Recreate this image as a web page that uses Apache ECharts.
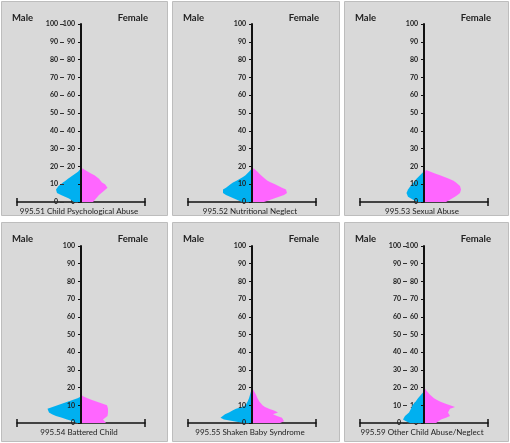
<!DOCTYPE html>
<html>
<head>
<meta charset="utf-8">
<script src="https://cdn.jsdelivr.net/npm/echarts@6/dist/echarts.min.js"></script>
<style>
html,body{margin:0;padding:0;background:#fff;}
#c{width:510px;height:443px;}
</style>
</head>
<body>
<div id="c"></div>
<script>
// ---- data (age 0,1,2,... upward; male negative, female positive) ----
const ageCategories = Array.from({length: 101}, (_, i) => String(i));
const panelTitles = [
  '995.51 Child Psychological Abuse',
  '995.52 Nutritional Neglect',
  '995.53 Sexual Abuse',
  '995.54 Battered Child',
  '995.55 Shaken Baby Syndrome',
  '995.59 Other Child Abuse/Neglect'
];
const male1   = [-7, -9, -12, -16, -20, -24, -25.5, -25, -24, -22.5, -20.5, -18, -15.5, -13, -10.5, -8, -5.5, -3, -1, 0];
const female1 = [12, 13.5, 15, 16.5, 18, 20, 22.5, 24.5, 26.5, 26, 24, 21, 19.5, 18, 16.5, 13.5, 10, 7, 4, 1.5, 0];
const male2   = [-10, -14, -18, -22, -26, -29, -30, -29, -26, -24, -21.5, -19, -15.5, -12, -9, -6.5, -4.5, -3, -1.5, 0];
const female2 = [12, 17, 22, 27, 32, 35, 36.5, 34, 30, 26.5, 23, 19, 15.5, 13, 11, 9, 7, 5.5, 3.5, 1.5, 0];
const male3   = [-6, -10, -13, -16, -17, -17.5, -17, -16, -15, -13.5, -12, -10.5, -9, -7.5, -5.5, -4, -2, -0.5, 0];
const female3 = [22, 25, 28, 31, 33.5, 36, 37, 37, 36.5, 36, 35, 32, 29.5, 25, 20.5, 16, 11, 6.5, 2, 0];
const male4   = [-4, -8, -14, -19, -25, -29, -32, -34, -33.5, -28.5, -23.5, -18.5, -13.5, -8.5, -3.5, 0];
const female4 = [25, 24, 22, 24, 26.5, 27, 27, 27, 27, 27, 26, 21, 16, 11, 6.5, 2.5, 0];
const male5   = [-8, -18, -28, -31.5, -30, -27, -23, -19.5, -16, -10, -6.5, -5.5, -4.5, -3.5, -3, -2.5, -2, -1.5, -1, -0.5, 0];
const female5 = [28, 32, 33, 30, 25, 21, 26, 22, 17, 13, 10.5, 9, 7.5, 6.5, 5.5, 4.5, 4, 3, 2, 1, 0];
const male6   = [-14, -18, -21, -21.5, -19, -17, -15, -13.5, -13, -12.5, -11.5, -10, -8.5, -7, -6, -4.5, -3, -1.5, 0];
const female6 = [12, 14, 17, 22, 26, 25, 24, 23, 26, 31, 30, 21, 16.5, 13, 10, 8, 6, 4.5, 3, 1.5, 0];
const maleSeries = [male1, male2, male3, male4, male5, male6];
const femaleSeries = [female1, female2, female3, female4, female5, female6];
const doubleLabelPanels = [0, 5];

// ---- layout ----
const panels = [
  {x: 1, y: 1, w: 167, h: 215},
  {x: 172, y: 1, w: 168, h: 215},
  {x: 344, y: 1, w: 165, h: 215},
  {x: 1, y: 222, w: 167, h: 220},
  {x: 172, y: 222, w: 168, h: 220},
  {x: 344, y: 222, w: 165, h: 220}
];
const FONT = 'Lato, "Liberation Sans", sans-serif';
const BLUE = '#00B0F0', PINK = '#FF66FF';

const grid = [], xAxis = [], yAxis = [], series = [], graphic = [];
panels.forEach((p, i) => {
  const top = i < 3 ? p.y + 23 : p.y + 24;
  const height = i < 3 ? 178 : 177;
  grid.push({left: p.x + 16, top: top, width: 128, height: height});
  xAxis.push({
    gridIndex: i, type: 'value', min: -64, max: 64,
    axisLine: {show: true, onZero: false, symbol: ['rect', 'rect'], symbolSize: [8, 1.5],
      lineStyle: {color: '#111', width: 1.5}},
    axisTick: {show: false}, axisLabel: {show: false}, splitLine: {show: false}
  });
  const base = {
    gridIndex: i, type: 'category', data: ageCategories, boundaryGap: false,
    position: 'left', splitLine: {show: false}
  };
  // axis line + ticks (on top of areas)
  yAxis.push(Object.assign({}, base, {
    offset: -64, z: 6,
    axisLine: {show: true, onZero: false, lineStyle: {color: '#111', width: 2}},
    axisTick: {show: true, length: 3, interval: 9, lineStyle: {color: '#111', width: 1}},
    axisLabel: {show: false}
  }));
  const labelAxisIndex = yAxis.length;
  const dbl = doubleLabelPanels.indexOf(i) >= 0;
  yAxis.push(Object.assign({}, base, {
    offset: -64, z: dbl ? 0 : 6,
    axisLine: {show: false}, axisTick: {show: false},
    axisLabel: {interval: 9, margin: 6, fontSize: 7, fontWeight: 'bold', color: '#222', fontFamily: FONT}
  }));
  if (dbl) {
    yAxis.push(Object.assign({}, base, {
      offset: -47, z: 6,
      axisLine: {show: false},
      axisTick: {show: true, length: 4, interval: 9, lineStyle: {color: '#333', width: 1}},
      axisLabel: {interval: 9, margin: 6, fontSize: 7, fontWeight: 'bold', color: '#222', fontFamily: FONT}
    }));
  }
  series.push({
    name: 'Male', type: 'line', xAxisIndex: i, yAxisIndex: labelAxisIndex,
    data: maleSeries[i], symbol: 'none', smooth: false, z: 2,
    lineStyle: {width: 0, color: BLUE}, areaStyle: {color: BLUE, opacity: 1}
  });
  series.push({
    name: 'Female', type: 'line', xAxisIndex: i, yAxisIndex: labelAxisIndex,
    data: femaleSeries[i], symbol: 'none', smooth: false, z: 2,
    lineStyle: {width: 0, color: PINK}, areaStyle: {color: PINK, opacity: 1}
  });
  graphic.push({
    type: 'rect', z: -10, silent: true,
    shape: {x: p.x + 0.5, y: p.y + 0.5, width: p.w - 1, height: p.h - 1},
    style: {fill: '#D9D9D9', stroke: '#BDBDBD', lineWidth: 1}
  });
  graphic.push({
    type: 'text', z: 10, silent: true, x: p.x + 11, y: p.y + 17,
    style: {text: 'Male', font: 'bold 9.5px ' + FONT, fill: '#222', verticalAlign: 'middle', align: 'left'}
  });
  graphic.push({
    type: 'text', z: 10, silent: true, x: p.x + 147, y: p.y + 17,
    style: {text: 'Female', font: 'bold 9.5px ' + FONT, fill: '#222', verticalAlign: 'middle', align: 'right'}
  });
  graphic.push({
    type: 'text', z: 10, silent: true, x: p.x + 78, y: p.y + 210,
    style: {text: panelTitles[i], font: '8px ' + FONT, fill: '#222', verticalAlign: 'middle', align: 'center'}
  });
});

const chart = echarts.init(document.getElementById('c'), null, {renderer: 'canvas'});
chart.setOption({
  animation: false,
  backgroundColor: '#ffffff',
  grid: grid, xAxis: xAxis, yAxis: yAxis, series: series, graphic: graphic
});
</script>
</body>
</html>
